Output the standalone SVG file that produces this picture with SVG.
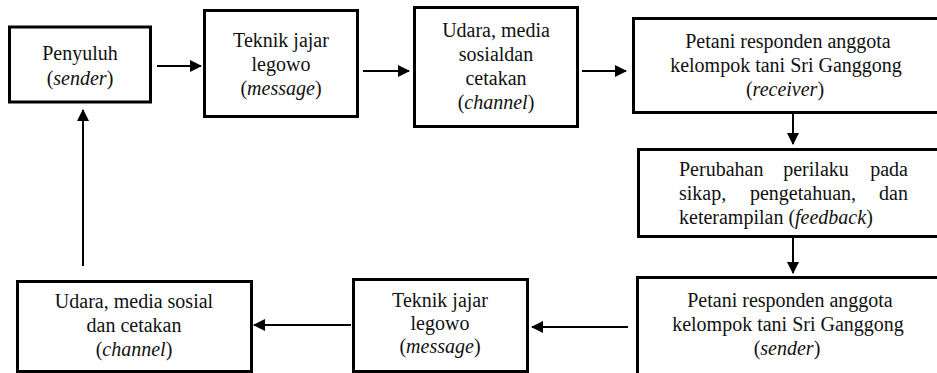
<svg xmlns="http://www.w3.org/2000/svg" width="937" height="373" viewBox="0 0 937 373">
<style>
  .box { fill: #ffffff; stroke: #000000; stroke-width: 3; }
  text { font-family: "Times New Roman", Times, Liberation Serif, Tinos, "Noto Serif", "DejaVu Serif", serif; font-size: 20px; fill: #111111; text-anchor: middle; }
  text.s { text-anchor: start; }
  text.e { text-anchor: end; }
  .conn line { stroke: #000000; stroke-width: 2; }
  .it { font-style: italic; }
</style>
<defs>
  <marker id="ah" markerWidth="12" markerHeight="12" refX="11" refY="6" orient="auto" markerUnits="userSpaceOnUse">
    <path d="M0,0 L12,6 L0,12 Z" fill="#000000"/>
  </marker>
</defs>
<rect width="937" height="373" fill="#ffffff"/>

<g id="n1">
  <rect class="box" x="9.5" y="27" width="141" height="75"/>
  <text x="80" y="60">Penyuluh</text>
  <text x="80" y="85">(<tspan class="it">sender</tspan>)</text>
</g>
<g id="n2">
  <rect class="box" x="204.5" y="10.5" width="153" height="106"/>
  <text x="281" y="47">Teknik jajar</text>
  <text x="281" y="71">legowo</text>
  <text x="281" y="95">(<tspan class="it">message</tspan>)</text>
</g>
<g id="n3">
  <rect class="box" x="414.5" y="7.5" width="163" height="119"/>
  <text x="496" y="37">Udara, media</text>
  <text x="496" y="61">sosialdan</text>
  <text x="496" y="85">cetakan</text>
  <text x="496" y="109">(<tspan class="it">channel</tspan>)</text>
</g>
<g id="n4">
  <rect class="box" x="633.5" y="18.5" width="310" height="94"/>
  <text x="788" y="48">Petani responden anggota</text>
  <text x="786" y="72">kelompok tani Sri Ganggong</text>
  <text x="785" y="96">(<tspan class="it">receiver</tspan>)</text>
</g>
<g id="n5">
  <rect class="box" x="638.5" y="149.5" width="305" height="87"/>
  <text class="s" x="679" y="176">Perubahan</text>
  <text x="816" y="176">perilaku</text>
  <text class="e" x="908" y="176">pada</text>
  <text class="s" x="679" y="200">sikap,</text>
  <text x="803" y="200">pengetahuan,</text>
  <text class="e" x="908" y="200">dan</text>
  <text class="s" x="679" y="224">keterampilan (<tspan class="it">feedback</tspan>)</text>
</g>
<g id="n6">
  <rect class="box" x="637.5" y="277.5" width="306" height="110"/>
  <text x="790" y="307">Petani responden anggota</text>
  <text x="788" y="331">kelompok tani Sri Ganggong</text>
  <text x="787" y="355">(<tspan class="it">sender</tspan>)</text>
</g>
<g id="n7">
  <rect class="box" x="353.5" y="279.5" width="174" height="92"/>
  <text x="440" y="307">Teknik jajar</text>
  <text x="440" y="330">legowo</text>
  <text x="440" y="353">(<tspan class="it">message</tspan>)</text>
</g>
<g id="n8">
  <rect class="box" x="17.5" y="281.5" width="234" height="90"/>
  <text x="134" y="308">Udara, media sosial</text>
  <text x="134" y="332">dan cetakan</text>
  <text x="134" y="356">(<tspan class="it">channel</tspan>)</text>
</g>

<g id="connectors" class="conn">
  <line x1="157" y1="66" x2="201" y2="66" marker-end="url(#ah)"/>
  <line x1="363" y1="71" x2="409" y2="71" marker-end="url(#ah)"/>
  <line x1="582" y1="71" x2="626" y2="71" marker-end="url(#ah)"/>
  <line x1="793" y1="114" x2="793" y2="144" marker-end="url(#ah)"/>
  <line x1="793" y1="238" x2="793" y2="273" marker-end="url(#ah)"/>
  <line x1="628" y1="327" x2="532" y2="327" marker-end="url(#ah)"/>
  <line x1="351" y1="325" x2="254" y2="325" marker-end="url(#ah)"/>
  <line x1="83" y1="266" x2="83" y2="110" marker-end="url(#ah)"/>
</g>
</svg>
